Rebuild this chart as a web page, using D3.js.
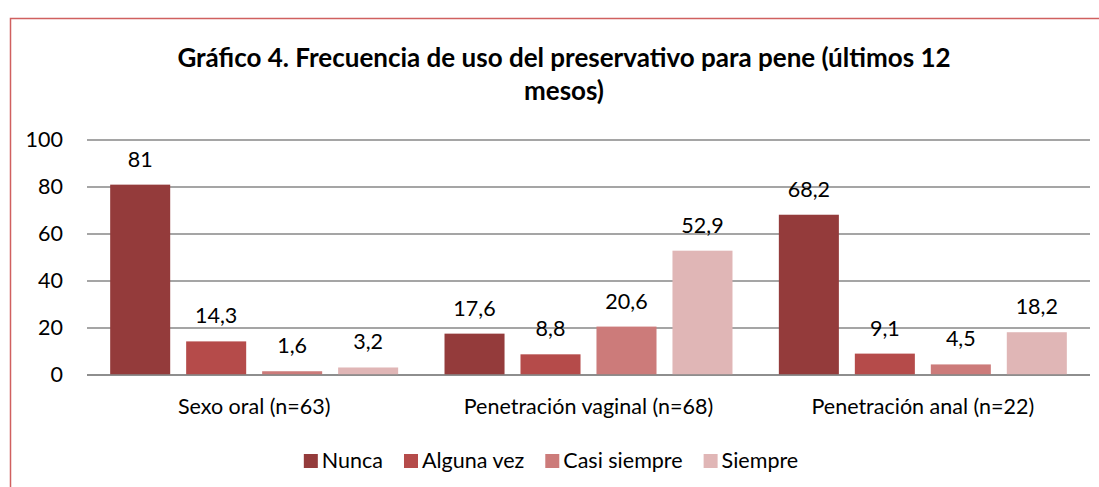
<!DOCTYPE html>
<html>
<head>
<meta charset="utf-8">
<script src="https://cdn.jsdelivr.net/npm/d3@7"></script>
<style>
  html, body { margin: 0; padding: 0; background: #fff; }
  svg { display: block; font-family: Lato, "Open Sans", sans-serif; }
</style>
</head>
<body>
<div id="chart"></div>
<script>
'use strict'

const categories = ['Sexo oral (n=63)', 'Penetración vaginal (n=68)', 'Penetración anal (n=22)']
const seriesNames = ['Nunca', 'Alguna vez', 'Casi siempre', 'Siempre']
const nunca = [81, 17.6, 68.2]
const algunaVez = [14.3, 8.8, 9.1]
const casiSiempre = [1.6, 20.6, 4.5]
const siempre = [3.2, 52.9, 18.2]
const yTicks = [0, 20, 40, 60, 80, 100]
const titleLines = ['Gráfico 4. Frecuencia de uso del preservativo para pene (últimos 12', 'mesos)']

const colors = ['#943b3b', '#b54b4a', '#cc7b7a', '#e0b6b6']
const seriesValues = [nunca, algunaVez, casiSiempre, siempre]

const width = 1099
const height = 487
const plot = { left: 87, right: 1090, top: 140, bottom: 375 }
const labelSize = 21.5

const svg = d3.select('#chart')
  .append('svg')
  .attr('width', width)
  .attr('height', height)

// outer frame (only top and left edges show)
svg.append('path')
  .attr('d', `M10.5,${height} V18.5 H${width}`)
  .attr('fill', 'none')
  .attr('stroke', '#d0605f')
  .attr('stroke-width', 1.5)

// title
svg.append('g')
  .selectAll('text')
  .data(titleLines)
  .join('text')
  .attr('x', 564)
  .attr('y', (d, i) => 67 + i * 33)
  .attr('text-anchor', 'middle')
  .attr('font-size', 26)
  .attr('font-weight', 'bold')
  .attr('fill', '#000')
  .text((d) => d)

const x0 = d3.scaleBand()
  .domain(categories)
  .range([plot.left, plot.right])

const x1 = d3.scaleBand()
  .domain(seriesNames)
  .range([0, x0.bandwidth()])
  .paddingInner(0.21)
  .paddingOuter(0.305)

const y = d3.scaleLinear()
  .domain([0, 100])
  .range([plot.bottom, plot.top])

// gridlines
svg.append('g')
  .selectAll('line')
  .data(yTicks)
  .join('line')
  .attr('x1', plot.left)
  .attr('x2', plot.right)
  .attr('y1', (d) => y(d))
  .attr('y2', (d) => y(d))
  .attr('stroke', '#878787')
  .attr('stroke-width', 1.5)

// y axis labels
const yAxis = d3.axisLeft(y)
  .tickValues(yTicks)
  .tickSize(0)
  .tickPadding(24)

svg.append('g')
  .attr('transform', `translate(${plot.left}, 0)`)
  .call(yAxis)
  .call((g) => g.select('.domain').remove())
  .call((g) => g.selectAll('text')
    .attr('font-family', 'Lato, "Open Sans", sans-serif')
    .attr('font-size', labelSize)
    .attr('fill', '#000'))

const fmt = (v) => String(v).replace('.', ',')

const groups = svg.append('g')
  .selectAll('g')
  .data(categories)
  .join('g')
  .attr('transform', (d) => `translate(${x0(d)}, 0)`)

groups.selectAll('rect')
  .data((d, ci) => seriesNames.map((s, si) => ({ s, si, v: seriesValues[si][ci] })))
  .join('rect')
  .attr('x', (d) => x1(d.s))
  .attr('width', x1.bandwidth())
  .attr('y', (d) => y(d.v))
  .attr('height', (d) => y(0) - y(d.v))
  .attr('fill', (d) => colors[d.si])

groups.selectAll('text.value')
  .data((d, ci) => seriesNames.map((s, si) => ({ s, si, v: seriesValues[si][ci] })))
  .join('text')
  .attr('class', 'value')
  .attr('x', (d) => x1(d.s) + x1.bandwidth() / 2)
  .attr('y', (d) => y(d.v) - 18)
  .attr('text-anchor', 'middle')
  .attr('font-size', labelSize)
  .attr('fill', '#000')
  .text((d) => fmt(d.v))

// baseline on top of bars
svg.append('line')
  .attr('x1', plot.left)
  .attr('x2', plot.right)
  .attr('y1', y(0))
  .attr('y2', y(0))
  .attr('stroke', '#878787')
  .attr('stroke-width', 1.5)

// category labels
const xAxis = d3.axisBottom(x0)
  .tickSize(0)
  .tickPadding(24)

svg.append('g')
  .attr('transform', `translate(0, ${plot.bottom})`)
  .call(xAxis)
  .call((g) => g.select('.domain').remove())
  .call((g) => g.selectAll('text')
    .attr('font-family', 'Lato, "Open Sans", sans-serif')
    .attr('font-size', labelSize)
    .attr('fill', '#000'))

// legend
const legend = svg.append('g')
const items = legend.selectAll('g')
  .data(seriesNames)
  .join('g')

items.append('rect')
  .attr('width', 14)
  .attr('height', 14)
  .attr('y', -14)
  .attr('fill', (d, i) => colors[i])

items.append('text')
  .attr('x', 18)
  .attr('font-size', labelSize)
  .attr('fill', '#000')
  .text((d) => d)

const legendGap = 21
let cursor = 0
items.each(function () {
  const w = this.querySelector('text').getComputedTextLength()
  d3.select(this).attr('transform', `translate(${cursor}, 0)`)
  cursor += 18 + w + legendGap
})
const legendWidth = cursor - legendGap
legend.attr('transform', `translate(${551 - legendWidth / 2}, 468)`)
</script>
</body>
</html>
